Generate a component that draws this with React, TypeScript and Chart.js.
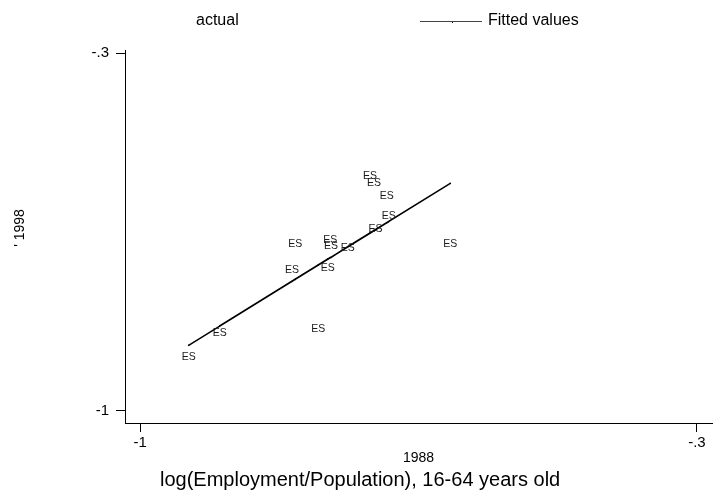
import React, { useEffect, useRef } from "react";
import { Chart, registerables } from "chart.js";

Chart.register(...registerables);

// ---- data ----
const pointLabels = ["ES", "ES", "ES", "ES", "ES", "ES", "ES", "ES", "ES", "ES", "ES", "ES", "ES", "ES", "ES"];
const actualX = [-0.711, -0.706, -0.69, -0.6875, -0.704, -0.805, -0.761, -0.76, -0.739, -0.61, -0.809, -0.764, -0.9, -0.776, -0.939];
const actualY = [-0.541, -0.554, -0.58, -0.619, -0.644, -0.674, -0.666, -0.678, -0.682, -0.674, -0.725, -0.721, -0.848, -0.84, -0.895];
const fittedY = [-0.652, -0.647, -0.632, -0.63, -0.646, -0.743, -0.7, -0.7, -0.679, -0.555, -0.747, -0.703, -0.834, -0.715, -0.872];

const xTickValues = [-1, -0.3];
const xTickLabels = ["-1", "-.3"];
const yTickValues = [-1, -0.3];
const yTickLabels = ["-1", "-.3"];

const legendLabels = ["actual", "Fitted values"];
const xTitleTop = "1988";
const xTitleMain = "log(Employment/Population), 16-64 years old";
const yTitle = "' 1998";

const FONT = "'Liberation Sans', Arial, Helvetica, sans-serif";

const overlayPlugin = {
  id: "stataOverlay",
  afterDatasetsDraw(chart: any) {
    const ctx = chart.ctx;
    const xs = chart.scales.x;
    const ys = chart.scales.y;
    ctx.save();
    ctx.fillStyle = "#1a1a1a";
    ctx.font = `10.5px ${FONT}`;
    ctx.textAlign = "center";
    ctx.textBaseline = "middle";
    actualX.forEach((xv, i) => {
      ctx.fillText(pointLabels[i], xs.getPixelForValue(xv), ys.getPixelForValue(actualY[i]));
    });
    ctx.restore();
  },
  afterDraw(chart: any) {
    const ctx = chart.ctx;
    const area = chart.chartArea;
    ctx.save();
    ctx.fillStyle = "#000";
    // legend
    ctx.font = `16px ${FONT}`;
    ctx.textBaseline = "middle";
    ctx.textAlign = "left";
    ctx.fillText(legendLabels[0], 196, 21);
    ctx.strokeStyle = "#444";
    ctx.lineWidth = 1;
    ctx.beginPath();
    ctx.moveTo(420, 21.5);
    ctx.lineTo(482, 21.5);
    ctx.stroke();
    ctx.fillRect(452, 22, 1, 1);
    ctx.fillText(legendLabels[1], 488, 21);
    // x titles
    ctx.textAlign = "center";
    ctx.font = `14px ${FONT}`;
    ctx.fillText(xTitleTop, (area.left + area.right) / 2, 458);
    ctx.textAlign = "left";
    ctx.font = `20px ${FONT}`;
    ctx.fillText(xTitleMain, 160, 480);
    // y title
    ctx.translate(20, 228);
    ctx.rotate(-Math.PI / 2);
    ctx.textAlign = "center";
    ctx.font = `14px ${FONT}`;
    ctx.fillText(yTitle, 0, 0);
    ctx.restore();
  },
};

export default function App() {
  const ref = useRef<HTMLCanvasElement | null>(null);

  useEffect(() => {
    document.body.style.margin = "0";
    const canvas = ref.current;
    if (!canvas) return;
    Chart.defaults.font.family = FONT;
    const chart = new Chart(canvas, {
      type: "scatter",
      data: {
        datasets: [
          {
            label: legendLabels[0],
            data: actualX.map((x, i) => ({ x, y: actualY[i] })),
            pointRadius: 0,
            pointHoverRadius: 0,
            showLine: false,
          },
          {
            label: legendLabels[1],
            data: actualX.map((x, i) => ({ x, y: fittedY[i] })),
            showLine: true,
            borderColor: "#000",
            borderWidth: 1.5,
            pointRadius: 0.8,
            pointBackgroundColor: "#000",
            pointBorderWidth: 0,
            tension: 0,
          },
        ],
      },
      options: {
        responsive: false,
        animation: false,
        events: [],
        layout: { padding: { top: 50, right: 1, left: 0, bottom: 0 } },
        plugins: {
          legend: { display: false },
          tooltip: { enabled: false },
          title: { display: false },
        },
        scales: {
          x: {
            type: "linear",
            min: -1.019,
            max: -0.281,
            afterBuildTicks: (scale: any) => {
              scale.ticks = xTickValues.map((v) => ({ value: v }));
            },
            afterFit: (scale: any) => {
              scale.height = 73;
            },
            ticks: {
              color: "#000",
              font: { size: 15, family: FONT },
              padding: 2,
              maxRotation: 0,
              callback: (_v: any, i: number) => xTickLabels[i],
            },
            grid: { display: true, drawOnChartArea: false, drawTicks: true, tickLength: 9, color: "#000", lineWidth: 1 },
            border: { display: true, color: "#000", width: 1 },
          },
          y: {
            type: "linear",
            min: -1.024,
            max: -0.294,
            afterBuildTicks: (scale: any) => {
              scale.ticks = yTickValues.map((v) => ({ value: v }));
            },
            afterFit: (scale: any) => {
              scale.width = 125;
            },
            ticks: {
              color: "#000",
              font: { size: 15, family: FONT },
              padding: 7,
              callback: (_v: any, i: number) => yTickLabels[i],
            },
            grid: { display: true, drawOnChartArea: false, drawTicks: true, tickLength: 9, color: "#000", lineWidth: 1 },
            border: { display: true, color: "#000", width: 1 },
          },
        },
      },
      plugins: [overlayPlugin],
    });
    return () => chart.destroy();
  }, []);

  return (
    <div style={{ width: 716, height: 496, background: "#fff" }}>
      <canvas ref={ref} width={716} height={496} style={{ display: "block" }} />
    </div>
  );
}
